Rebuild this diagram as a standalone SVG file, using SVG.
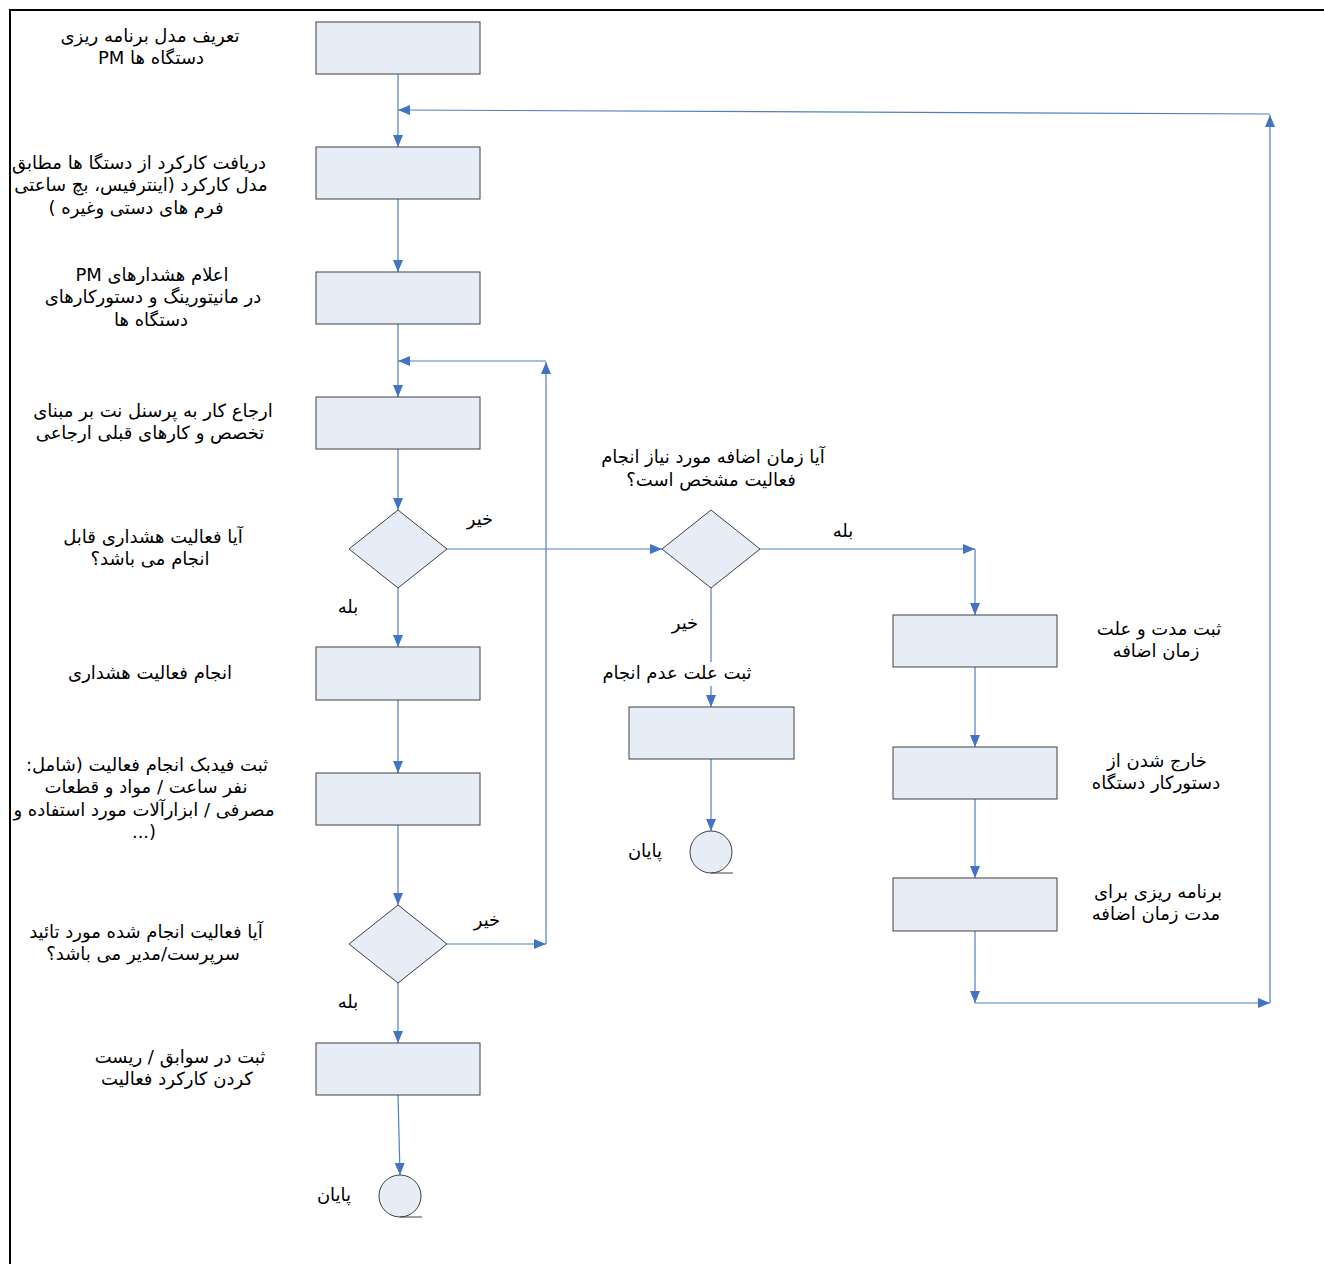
<svg xmlns="http://www.w3.org/2000/svg" width="1324" height="1264" viewBox="0 0 1324 1264">
<style>
.box{fill:#E6EDF7;stroke:#404040;stroke-width:1}
.c{fill:none;stroke:#4F7FC0;stroke-width:1.2}
.t{font-family:"DejaVu Sans","Noto Sans",sans-serif;font-size:18px;fill:#000;text-anchor:middle;direction:rtl}
.bg{fill:#fff}
</style>
<defs>
<marker id="ah" viewBox="0 0 12 10" refX="12" refY="5" markerWidth="12" markerHeight="10" markerUnits="userSpaceOnUse" orient="auto">
<path d="M0,0 L12,5 L0,10 Z" fill="#4472C4"/>
</marker>
</defs>
<rect width="1324" height="1264" fill="#fff"/>
<g id="frame">
<path d="M10,1264 V10 H1324" fill="none" stroke="#000" stroke-width="2"/>
</g>
<g id="connectors">
<path class="c" d="M398,74 V147" marker-end="url(#ah)"/>
<path class="c" d="M1270,1003 V115" marker-end="url(#ah)"/>
<path class="c" d="M1270,114 L398,110" marker-end="url(#ah)"/>
<path class="c" d="M398,199 V272" marker-end="url(#ah)"/>
<path class="c" d="M398,324 V397" marker-end="url(#ah)"/>
<path class="c" d="M546,361 H398" marker-end="url(#ah)"/>
<path class="c" d="M398,449 V510" marker-end="url(#ah)"/>
<path class="c" d="M447,549 H662" marker-end="url(#ah)"/>
<path class="c" d="M398,588 V647" marker-end="url(#ah)"/>
<path class="c" d="M398,700 V773" marker-end="url(#ah)"/>
<path class="c" d="M398,825 V905" marker-end="url(#ah)"/>
<path class="c" d="M447,944 H546" marker-end="url(#ah)"/>
<path class="c" d="M546,944 V362" marker-end="url(#ah)"/>
<path class="c" d="M398,983 V1043" marker-end="url(#ah)"/>
<path class="c" d="M398,1095 L400,1175" marker-end="url(#ah)"/>
<path class="c" d="M760,549 H975" marker-end="url(#ah)"/>
<path class="c" d="M975,549 V615" marker-end="url(#ah)"/>
<path class="c" d="M711,588 V707" marker-end="url(#ah)"/>
<path class="c" d="M711,759 V831" marker-end="url(#ah)"/>
<path class="c" d="M975,667 V747" marker-end="url(#ah)"/>
<path class="c" d="M975,799 V878" marker-end="url(#ah)"/>
<path class="c" d="M975,931 V1003" marker-end="url(#ah)"/>
<path class="c" d="M975,1003 H1270" marker-end="url(#ah)"/>
</g>
<g id="n1"><rect class="box" x="316" y="22" width="164" height="52"/>
<text class="t" x="150" y="42">تعریف مدل برنامه ریزی</text>
<text class="t" x="151" y="64">دستگاه ها PM</text></g>
<g id="n2"><rect class="box" x="316" y="147" width="164" height="52"/>
<text class="t" x="139" y="169">دریافت کارکرد از دستگا ها مطابق</text>
<text class="t" x="141" y="191">مدل کارکرد (اینترفیس، بچ ساعتی</text>
<text class="t" x="136" y="214">فرم های دستی وغیره )</text></g>
<g id="n3"><rect class="box" x="316" y="272" width="164" height="52"/>
<text class="t" x="152" y="281">اعلام هشدارهای PM</text>
<text class="t" x="153" y="303">در مانیتورینگ و دستورکارهای</text>
<text class="t" x="151" y="326">دستگاه ها</text></g>
<g id="n4"><rect class="box" x="316" y="397" width="164" height="52"/>
<text class="t" x="153" y="417">ارجاع کار به پرسنل نت بر مبنای</text>
<text class="t" x="150" y="439">تخصص و کارهای قبلی ارجاعی</text></g>
<g id="d1"><path class="box" d="M398,510 L447,549 L398,588 L349,549 Z"/>
<text class="t" x="153" y="543">آیا فعالیت هشداری قابل</text>
<text class="t" x="150" y="565">انجام می باشد؟</text></g>
<g id="n5"><rect class="box" x="316" y="647" width="164" height="53"/>
<text class="t" x="150" y="679">انجام فعالیت هشداری</text></g>
<g id="n6"><rect class="box" x="316" y="773" width="164" height="52"/>
<text class="t" x="147" y="771">ثبت فیدبک انجام فعالیت (شامل:</text>
<text class="t" x="146" y="793">نفر ساعت / مواد و قطعات</text>
<text class="t" x="144" y="816">مصرفی / ابزارآلات مورد استفاده و</text>
<text class="t" x="144" y="838">(...</text></g>
<g id="d2"><path class="box" d="M398,905 L447,944 L398,983 L349,944 Z"/>
<text class="t" x="146" y="938">آیا فعالیت انجام شده مورد تائید</text>
<text class="t" x="143" y="960">سرپرست/مدیر می باشد؟</text></g>
<g id="n7"><rect class="box" x="316" y="1043" width="164" height="52"/>
<text class="t" x="180" y="1063">ثبت در سوابق / ریست</text>
<text class="t" x="177" y="1085">کردن کارکرد فعالیت</text></g>
<g id="e1"><circle class="box" cx="400" cy="1196" r="21"/>
<path d="M400,1217 H422" stroke="#404040" stroke-width="1"/>
<text class="t" x="334" y="1201">پایان</text></g>
<g id="d3"><path class="box" d="M711,510 L760,549 L711,588 L662,549 Z"/>
<text class="t" x="713" y="463">آیا زمان اضافه مورد نیاز انجام</text>
<text class="t" x="711" y="486">فعالیت مشخص است؟</text></g>
<g id="n8"><rect class="box" x="629" y="707" width="165" height="52"/>
<rect class="bg" x="597" y="662" width="162" height="24"/>
<text class="t" x="677" y="679">ثبت علت عدم انجام</text></g>
<g id="e2"><circle class="box" cx="711" cy="852" r="21"/>
<path d="M711,873 H733" stroke="#404040" stroke-width="1"/>
<text class="t" x="645" y="857">پایان</text></g>
<g id="n9"><rect class="box" x="893" y="615" width="164" height="52"/>
<text class="t" x="1159" y="635">ثبت مدت و علت</text>
<text class="t" x="1156" y="657">زمان اضافه</text></g>
<g id="n10"><rect class="box" x="893" y="747" width="164" height="52"/>
<text class="t" x="1157" y="767">خارج شدن از</text>
<text class="t" x="1156" y="789">دستورکار دستگاه</text></g>
<g id="n11"><rect class="box" x="893" y="878" width="164" height="53"/>
<text class="t" x="1158" y="898">برنامه ریزی برای</text>
<text class="t" x="1156" y="920">مدت زمان اضافه</text></g>
<g id="labels">
<text class="t" x="480" y="525">خیر</text>
<text class="t" x="348" y="613">بله</text>
<text class="t" x="487" y="926">خیر</text>
<text class="t" x="348" y="1008">بله</text>
<text class="t" x="843" y="537">بله</text>
<text class="t" x="685" y="629">خیر</text>
</g>
</svg>
